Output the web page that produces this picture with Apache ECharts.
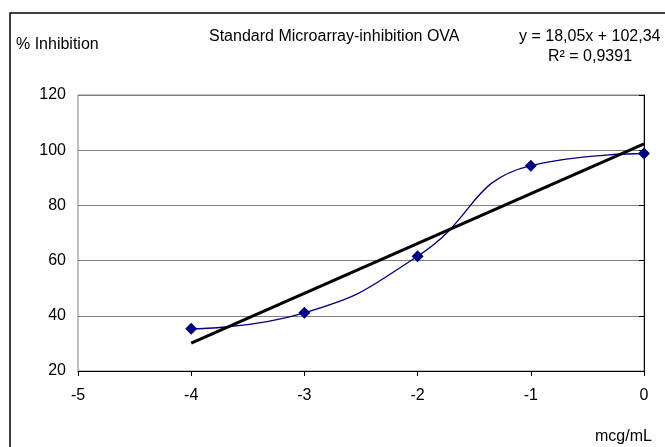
<!DOCTYPE html>
<html>
<head>
<meta charset="utf-8">
<script src="https://cdn.jsdelivr.net/npm/echarts@6/dist/echarts.min.js"></script>
<style>html,body{margin:0;padding:0;background:#fff}#c{width:665px;height:447px}</style>
</head>
<body>
<div id="c"></div>
<script>
const xValues = [-4, -3, -2, -1, 0];
const inhibition = [35.3, 41.1, 61.6, 94.4, 98.8];
const trendX = [-4, 0];
const trendY = [30.1, 102.3];
const yTicks = [20, 40, 60, 80, 100, 120];
const xTicks = [-5, -4, -3, -2, -1, 0];
const titleText = 'Standard Microarray-inhibition OVA';
const eqText = 'y = 18,05x + 102,34';
const r2Text = 'R² = 0,9391';
const yName = '% Inhibition';
const xName = 'mcg/mL';

const FONT = '"Liberation Sans", Arial, sans-serif';
const chart = echarts.init(document.getElementById('c'));
chart.setOption({
  animation: false,
  backgroundColor: '#fff',
  grid: { left: 78, right: 21, top: 95, bottom: 76, show: true, borderColor: '#808080', borderWidth: 1 },
  xAxis: {
    type: 'value', min: -5, max: 0, interval: 1,
    axisLine: { lineStyle: { color: '#000', width: 1 } },
    axisTick: { show: true, length: 5, lineStyle: { color: '#000' } },
    axisLabel: { color: '#000', fontFamily: FONT, fontSize: 16, margin: 17 },
    splitLine: { show: false }
  },
  yAxis: {
    type: 'value', min: 20, max: 120, interval: 20,
    axisLine: { show: true, lineStyle: { color: '#000', width: 1 } },
    axisTick: { show: true, length: 5, lineStyle: { color: '#000' } },
    axisLabel: { color: '#000', fontFamily: FONT, fontSize: 16, margin: 12 },
    splitLine: { show: true, lineStyle: { color: '#808080', width: 1 } }
  },
  graphic: [
    { type: 'rect', shape: { x: 10, y: 13, width: 700, height: 500 }, style: { fill: 'none', stroke: '#000', lineWidth: 1.5 }, z: 100 },
    { type: 'text', left: 16, top: 37, style: { text: yName, font: '16px ' + FONT, fill: '#000' } },
    { type: 'text', left: 209, top: 29, style: { text: titleText, font: '16px ' + FONT, fill: '#000' } },
    { type: 'text', left: 519, top: 29, style: { text: eqText, font: '16px ' + FONT, fill: '#000' } },
    { type: 'text', left: 548, top: 49, style: { text: r2Text, font: '16px ' + FONT, fill: '#000' } },
    { type: 'text', left: 595, top: 429, style: { text: xName, font: '16px ' + FONT, fill: '#000' } }
  ],
  series: [
    {
      type: 'line',
      data: xValues.map((x, i) => [x, inhibition[i]]),
      smooth: 0.5,
      symbol: 'diamond', symbolSize: 12,
      lineStyle: { color: '#000080', width: 1.3 },
      itemStyle: { color: '#000080' },
      z: 3
    },
    {
      type: 'line',
      data: trendX.map((x, i) => [x, trendY[i]]),
      symbol: 'none',
      lineStyle: { color: '#000', width: 3 },
      z: 4
    }
  ]
});
</script>
</body>
</html>
